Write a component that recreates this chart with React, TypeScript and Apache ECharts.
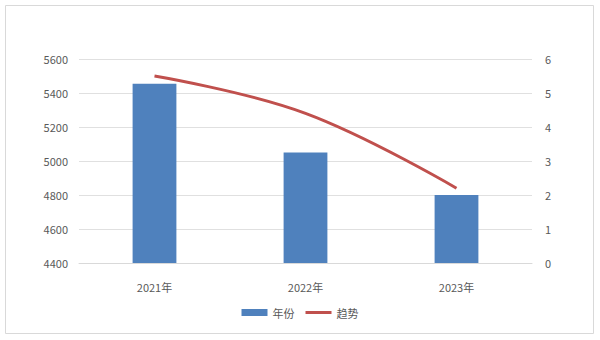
import React, { useEffect, useRef } from "react";
import * as echarts from "echarts";

const categories = ["2021年", "2022年", "2023年"];
const barValues = [5455, 5050, 4800];
const trendValues = [5.5, 4.4, 2.2];
const leftTicks = { min: 4400, max: 5600, interval: 200 };
const rightTicks = { min: 0, max: 6, interval: 1 };

const FONT = "'Noto Sans CJK SC', 'Noto Sans', sans-serif";

export default function App() {
  const ref = useRef<HTMLDivElement>(null);
  useEffect(() => {
    if (!ref.current) return;
    const chart = echarts.init(ref.current, undefined, { renderer: "svg" });
    chart.setOption({
      animation: false,
      backgroundColor: "#ffffff",
      textStyle: { fontFamily: FONT },
      graphic: [
        {
          type: "rect",
          shape: { x: 5.5, y: 5.5, width: 588, height: 328 },
          style: { fill: "none", stroke: "#d9d9d9", lineWidth: 1 },
          silent: true,
          z: -1,
        },
      ],
      grid: { left: 79, right: 68, top: 59, bottom: 77, containLabel: false },
      legend: {
        bottom: 17,
        left: "center",
        itemWidth: 26,
        itemHeight: 7,
        itemGap: 11,
        textStyle: { fontSize: 11, color: "#595959", fontFamily: FONT },
        data: [
          { name: "年份", icon: "rect" },
          { name: "趋势", icon: "path://M0,0 M0,2 L26,2 L26,5 L0,5 Z M26,7" },
        ],
      },
      xAxis: {
        type: "category",
        data: categories,
        axisLine: { show: true, lineStyle: { color: "#d9d9d9" } },
        axisTick: { show: false },
        axisLabel: { color: "#595959", fontSize: 11, margin: 18, fontFamily: FONT },
      },
      yAxis: [
        {
          type: "value",
          min: leftTicks.min,
          max: leftTicks.max,
          interval: leftTicks.interval,
          axisLine: { show: false },
          axisTick: { show: false },
          splitLine: { lineStyle: { color: "#e0e0e0" } },
          axisLabel: {
            color: "#595959",
            fontSize: 11,
            margin: 11,
            fontFamily: FONT,
            formatter: (v: number) => String(v),
          },
        },
        {
          type: "value",
          min: rightTicks.min,
          max: rightTicks.max,
          interval: rightTicks.interval,
          axisLine: { show: false },
          axisTick: { show: false },
          splitLine: { show: false },
          axisLabel: { color: "#595959", fontSize: 11, margin: 13, fontFamily: FONT },
        },
      ],
      series: [
        {
          name: "年份",
          type: "bar",
          data: barValues,
          barWidth: "29%",
          yAxisIndex: 0,
          itemStyle: { color: "#4f81bd" },
        },
        {
          name: "趋势",
          type: "line",
          data: trendValues,
          yAxisIndex: 1,
          smooth: 0.4,
          symbol: "none",
          showSymbol: false,
          lineStyle: { color: "#c0504d", width: 3 },
          itemStyle: { color: "#c0504d" },
        },
      ],
    });
    return () => chart.dispose();
  }, []);
  return (
    <div
      ref={ref}
      style={{ position: "fixed", left: 0, top: 0, width: 600, height: 340 }}
    />
  );
}
